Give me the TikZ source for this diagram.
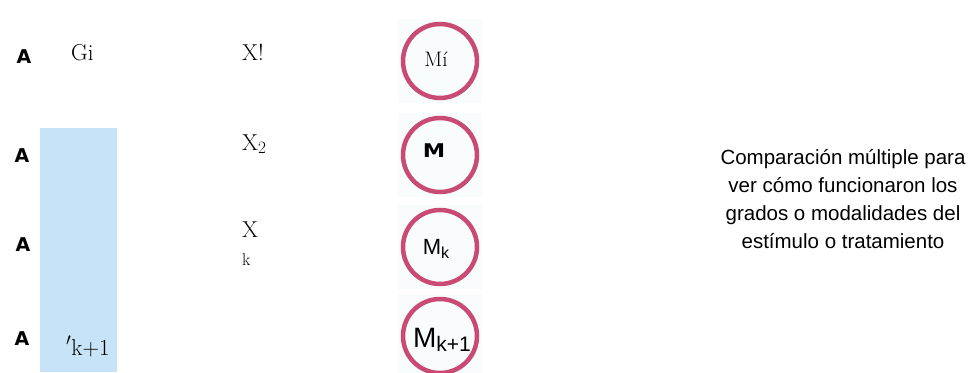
\documentclass[tikz,border=0pt]{standalone}
\usepackage{fontspec}
\setmainfont{Latin Modern Roman}
\newfontfamily\lsans{Liberation Sans}
\newfontfamily\heavy{DejaVu Sans}[BoldFont={DejaVu Sans Bold}]
\definecolor{ringc}{HTML}{C94A72}
\definecolor{bluebox}{HTML}{C6E3F7}
\definecolor{tint}{HTML}{F8FCFC}
\begin{document}
\begin{tikzpicture}[x=1pt,y=-1pt,
  lbl/.style={font=\heavy\bfseries\fontsize{19}{19}\selectfont, inner sep=0pt},
  ser/.style={font=\fontsize{23}{23}\selectfont, inner sep=0pt, anchor=base west},
  ring/.style={circle, draw=ringc, line width=4.5pt, minimum size=74pt, inner sep=0pt},
  bg/.style={fill=tint, draw=none, minimum size=84pt, inner sep=0pt},
  note/.style={font=\lsans\fontsize{20.5}{28}\selectfont, align=center, inner sep=0pt}]
\useasboundingbox (0,0) rectangle (973,372);
\fill[bluebox] (40,128) rectangle (117,372);
\node[lbl] (a1) at (24,57) {A};
\node[lbl] (a2) at (22,156) {A};
\node[lbl] (a3) at (23,245) {A};
\node[lbl] (a4) at (22,339) {A};
\node[ser] (gi) at (71,60) {Gi};
\node[ser] (x1) at (242,60) {X!};
\node[ser] (x2) at (242,150) {X$_2$};
\node[ser] (xk) at (242,237) {X};
\node[ser, font=\fontsize{17}{17}\selectfont] (kk) at (242,265) {k};
\node[ser] (kp) at (66,355) {$'$k+1};
\node[bg] (b1) at (440,61) {};
\node[bg] (b2) at (440,155) {};
\node[bg] (b3) at (440,247) {};
\node[bg] (b4) at (440,336) {};
\node[ring] (m1) at (440,61) {};
\node[ring] (m2) at (440,155) {};
\node[ring] (m3) at (440,247) {};
\node[ring] (m4) at (440,336) {};
\node[font=\fontsize{21}{21}\selectfont, inner sep=0pt] (t1) at (436,59) {Mí};
\node[font=\heavy\bfseries\fontsize{18}{18}\selectfont, inner sep=0pt] (t2) at (434,151) {\scalebox{1.25}[1.05]{M}};
\node[font=\lsans\fontsize{22}{22}\selectfont, inner sep=0pt] (t3) at (436,249) {M\raisebox{-0.3ex}{\fontsize{16}{16}\selectfont k}};
\node[font=\lsans\fontsize{28}{28}\selectfont, inner sep=0pt] (t4) at (442,340) {M\raisebox{-0.3ex}{\fontsize{21}{21}\selectfont k+1}};
\node[note] (n) at (843,199) {Comparación múltiple para\\ver cómo funcionaron los\\grados o modalidades del\\estímulo o tratamiento};
\end{tikzpicture}
\end{document}
